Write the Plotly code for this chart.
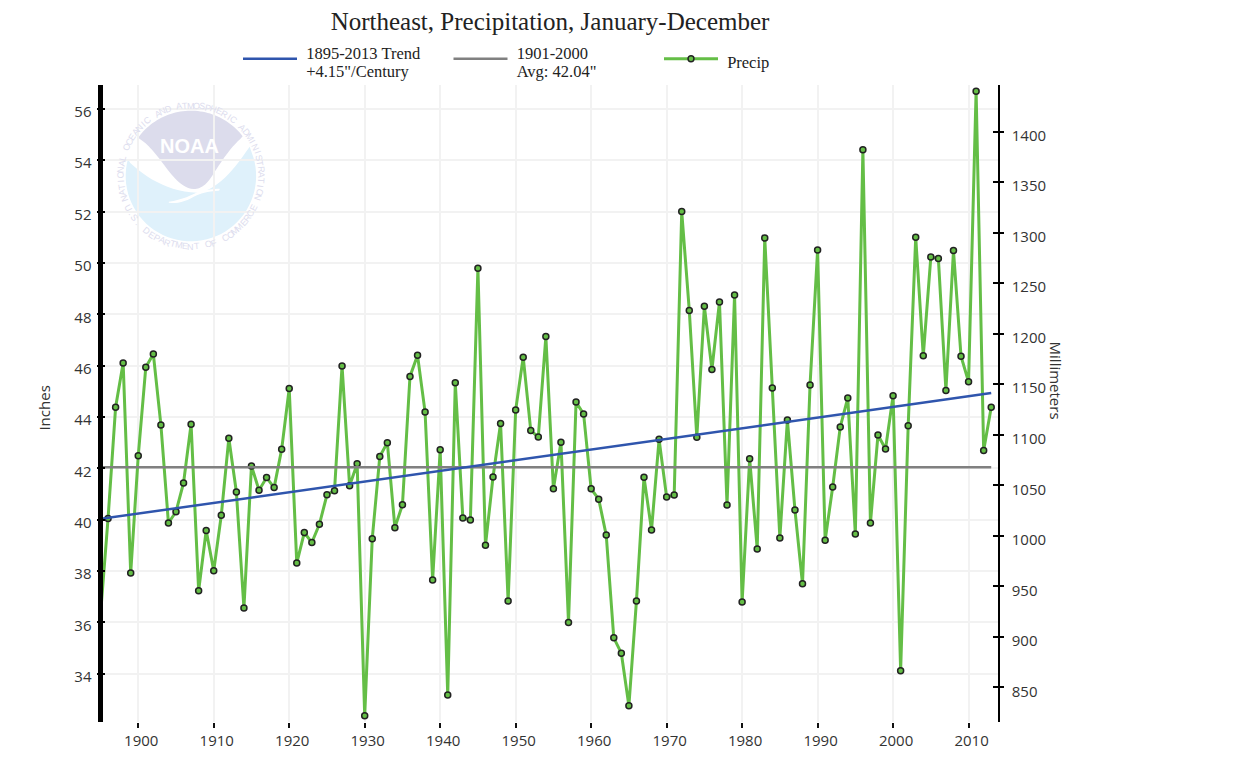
import math
import plotly.graph_objects as go

years = list(range(1895, 2014))
precip_inches = [
    36.30, 40.05, 44.38, 46.10, 37.92, 42.49, 45.94, 46.45, 43.69, 39.87,
    40.31, 41.43, 43.72, 37.23, 39.58, 38.01, 40.17, 43.17, 41.08, 36.56,
    42.09, 41.15, 41.64, 41.25, 42.74, 45.11, 38.31, 39.50, 39.11, 39.82,
    40.97, 41.13, 45.99, 41.32, 42.18, 32.36, 39.26, 42.46, 43.00, 39.69,
    40.58, 45.58, 46.40, 44.19, 37.65, 42.72, 33.17, 45.33, 40.07, 39.99,
    49.79, 39.00, 41.66, 43.75, 36.83, 44.27, 46.33, 43.47, 43.22, 47.13,
    41.20, 43.02, 36.00, 44.58, 44.12, 41.20, 40.80, 39.40, 35.40, 34.80,
    32.75, 36.83, 41.65, 39.60, 43.13, 40.88, 40.96, 52.00, 48.15, 43.21,
    48.31, 45.85, 48.48, 40.57, 48.75, 36.79, 42.37, 38.86, 50.97, 45.13,
    39.29, 43.88, 40.38, 37.50, 45.25, 50.50, 39.20, 41.27, 43.61, 44.74,
    39.44, 54.41, 39.87, 43.30, 42.75, 44.83, 34.12, 43.66, 51.00, 46.38,
    50.23, 50.17, 45.03, 50.48, 46.37, 45.37, 56.69, 42.69, 44.38,
]
trend_years = [1895, 2013]
trend_inches = [40.03, 44.93]
avg_years = [1895, 2013]
avg_inches = [42.04, 42.04]
y_range = [32.12, 56.93]
x_range = [1895.33, 2013.9]
MM = 25.4

W, H = 1260, 770
L, R, T, B = 102.5, 998.5, 85, 722
SERIF = "Liberation Serif"
SANS = "Open Sans"
TICK = "#333333"


def entry(*lines, shift=4):
    st = 'font-size:16.5px;baseline-shift:-%dpx' % shift
    return "<br>".join('<span style="%s">&nbsp;%s</span>' % (st, s) for s in lines)


fig = go.Figure()
fig.add_trace(go.Scatter(x=years, y=precip_inches, mode="lines+markers",
                         name=entry("Precip", shift=13) + "<br>&nbsp;", legendrank=3,
                         line=dict(color="#64BE46", width=3),
                         # the 1895 marker sits behind the heavy left axis in the reference
                         marker=dict(size=[0] + [6] * (len(years) - 1), color="#64BE46", opacity=1,
                                     line=dict(color="#222222", width=[0] + [1.5] * (len(years) - 1)))))
fig.add_trace(go.Scatter(x=avg_years, y=avg_inches, mode="lines", name=entry("1901-2000", 'Avg: 42.04"'), legendrank=2,
                         line=dict(color="#808080", width=2.5)))
fig.add_trace(go.Scatter(x=trend_years, y=trend_inches, mode="lines", name=entry("1895-2013 Trend", '+4.15"/Century'), legendrank=1,
                         line=dict(color="#2F55AD", width=2.5)))
# empty traces that keep the extra axes alive
for ax in ("y2", "y3", "y4"):
    fig.add_trace(go.Scatter(x=[None], y=[None], yaxis=ax, showlegend=False, hoverinfo="skip"))


def px(x, y):
    return (x - L) / (R - L), (B - y) / (B - T)


def path(points):
    out = []
    for i, p in enumerate(points):
        a, b = px(*p)
        out.append(("M" if i == 0 else "L") + f"{a:.5f},{b:.5f}")
    return " ".join(out) + " Z"


def bez(p0, p1, p2, p3, n=14):
    pts = []
    for i in range(1, n + 1):
        t = i / n
        u = 1 - t
        pts.append((u**3 * p0[0] + 3 * u * u * t * p1[0] + 3 * u * t * t * p2[0] + t**3 * p3[0],
                    u**3 * p0[1] + 3 * u * u * t * p1[1] + 3 * u * t * t * p2[1] + t**3 * p3[1]))
    return pts


def arc(cx, cy, r, a0, a1, n=48):
    return [(cx + r * math.sin(math.radians(a0 + (a1 - a0) * i / n)),
             cy - r * math.cos(math.radians(a0 + (a1 - a0) * i / n))) for i in range(n + 1)]


def z(*p):
    return (p[0] / 3, p[1] / 3)


cx, cy, rad = 190.5, 176, 65.3
lav = arc(cx, cy, rad, -53.5, 52.5)
for seg in [((728, 410), (690, 440), (660, 490), (640, 520)),
            ((640, 520), (620, 555), (600, 567), (580, 567)),
            ((580, 567), (540, 565), (510, 520), (480, 480)),
            ((480, 480), (460, 455), (440, 430), (415, 415))]:
    lav += bez(*[z(*s) for s in seg])
blue = arc(cx, cy, rad, 73, 285)
for seg in [((378, 478), (430, 530), (500, 575), (590, 578)),
            ((590, 578), (650, 572), (700, 510), (748, 440))]:
    blue += bez(*[z(*s) for s in seg])
tail = [z(505, 605)]
for seg in [((505, 605), (545, 600), (575, 585), (600, 572)),
            ((600, 572), (620, 570), (640, 567), (658, 566)),
            ((658, 566), (658, 570), (656, 572), (655, 572)),
            ((655, 572), (620, 575), (600, 580), (580, 590)),
            ((580, 590), (555, 605), (530, 612), (505, 608))]:
    tail += bez(*[z(*s) for s in seg], n=8)

shapes = []
for pts, col in ((blue, "#DFF1FB"), (lav, "#DCDCEC"), (tail, "#FFFFFF")):
    shapes.append(dict(type="path", xref="paper", yref="paper", path=path(pts),
                       fillcolor=col, line=dict(width=0), layer="below"))

annotations = []


def label(text, x, y, size, color, family, angle=0, bold=False):
    a, b = px(x, y)
    annotations.append(dict(text=("<b>%s</b>" % text) if bold else text, x=a, y=b, xref="paper", yref="paper",
                            showarrow=False, textangle=angle, font=dict(size=size, color=color, family=family),
                            xanchor="center", yanchor="middle"))


def ring(text, start, end, r, flip):
    n = len(text)
    for i, ch in enumerate(text):
        if ch == " ":
            continue
        ang = start + (end - start) * i / (n - 1)
        x = cx + r * math.sin(math.radians(ang))
        y = cy - r * math.cos(math.radians(ang))
        rot = ang + 180 if flip else ang
        label(ch, x, y, 9, "#DDDDEE", "Liberation Sans", angle=rot)


ring("NATIONAL OCEANIC AND ATMOSPHERIC ADMINISTRATION", -108, 108, 70.5, False)
ring("U.S. DEPARTMENT OF COMMERCE", 243, 117, 70.5, True)
label("NOAA", 189.5, 146, 20, "#FFFFFF", "Liberation Sans", bold=True)
label("Inches", 43, 408, 15, TICK, SANS, angle=-90)
label("Millimeters", 1057, 381, 15, TICK, SANS, angle=90)

fig.update_layout(
    width=W, height=H, autosize=False, showlegend=True,
    margin=dict(l=L, r=W - R, t=T, b=H - B, pad=0, autoexpand=False),
    paper_bgcolor="white", plot_bgcolor="white",
    title=dict(text="Northeast, Precipitation, January-December", x=550 / W, xanchor="center",
               y=1 - 21 / H, yanchor="middle", font=dict(family=SERIF, size=25, color="#222222")),
    legend=dict(orientation="h", xref="container", yref="container", x=238 / W, y=1 - 34 / H,
                xanchor="left", yanchor="top", itemwidth=54, entrywidth=141.5, entrywidthmode="pixels",
                font=dict(family=SERIF, size=14, color="#222222"), bgcolor="rgba(0,0,0,0)"),
    xaxis=dict(range=x_range, dtick=10, tick0=1900, showgrid=True, gridcolor="#F2F2F2", gridwidth=1.5,
               zeroline=False, showline=False, ticks="outside", ticklen=5, tickwidth=1.5, tickcolor="#111111",
               ticklabelshift=3, tickfont=dict(family=SANS, size=15, color=TICK)),
    yaxis=dict(range=y_range, dtick=2, tick0=34, showgrid=True, gridcolor="#F2F2F2", gridwidth=1.5,
               zeroline=False, showline=True, linecolor="#000000", linewidth=5, ticks="outside", ticklen=1.5,
               tickwidth=1.5, tickcolor="#000000", ticklabelshift=3, ticklabelstandoff=2,
               tickfont=dict(family=SANS, size=15, color=TICK)),
    yaxis2=dict(range=[v * MM for v in y_range], overlaying="y", side="right", dtick=50, tick0=850,
                showgrid=False, zeroline=False, showline=True, linecolor="#000000", linewidth=1.5,
                ticks="outside", ticklen=4, tickwidth=1.5, tickcolor="#000000", ticklabelshift=4,
                ticklabelstandoff=5, tickfont=dict(family=SANS, size=15, color=TICK)),
    yaxis3=dict(range=[v * MM for v in y_range], overlaying="y", side="right", dtick=50, tick0=850,
                showgrid=False, zeroline=False, showline=False, ticks="inside", ticklen=5, tickwidth=1.5,
                tickcolor="#000000", showticklabels=False),
    yaxis4=dict(range=y_range, overlaying="y", side="left", dtick=2, tick0=34, showgrid=False, zeroline=False,
                showline=False, ticks="inside", ticklen=1.5, tickwidth=1.5, tickcolor="#000000", showticklabels=False),
    shapes=shapes, annotations=annotations,
)

fig.write_html("out.html", config=dict(displayModeBar=False), post_script="document.body.style.margin='0';")
